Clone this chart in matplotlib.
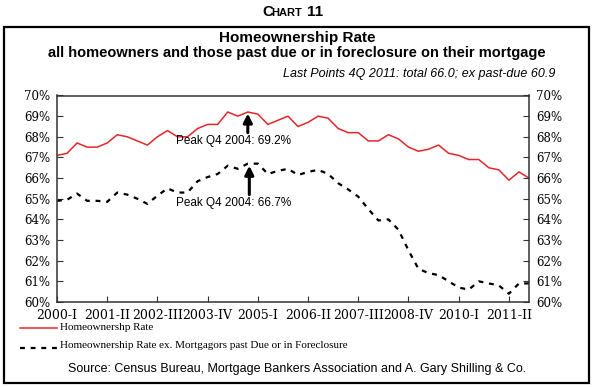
import matplotlib.pyplot as plt
import numpy as np
from matplotlib.patches import Rectangle
from matplotlib.lines import Line2D

# quarterly data, 2000-I .. 2011-IV
quarters = [f"{y}-{q}" for y in range(2000, 2012) for q in ["I", "II", "III", "IV"]]

total_rate = [
    67.1, 67.2, 67.7, 67.5, 67.5, 67.7, 68.1, 68.0, 67.8, 67.6, 68.0, 68.3,
    68.0, 68.0, 68.4, 68.6, 68.6, 69.2, 69.0, 69.2, 69.1, 68.6, 68.8, 69.0,
    68.5, 68.7, 69.0, 68.9, 68.4, 68.2, 68.2, 67.8, 67.8, 68.1, 67.9, 67.5,
    67.3, 67.4, 67.6, 67.2, 67.1, 66.9, 66.9, 66.5, 66.4, 65.9, 66.3, 66.0,
]

ex_past_due = [
    64.9, 64.95, 65.25, 64.9, 64.9, 64.85, 65.3, 65.2, 65.0, 64.75, 65.15, 65.5,
    65.3, 65.3, 65.85, 66.05, 66.2, 66.6, 66.45, 66.7, 66.7, 66.2, 66.35, 66.45,
    66.15, 66.3, 66.4, 66.2, 65.75, 65.45, 65.1, 64.5, 63.95, 64.0, 63.5, 62.5,
    61.6, 61.4, 61.3, 61.0, 60.7, 60.6, 61.0, 60.9, 60.8, 60.4, 60.9, 60.9,
]

tick_every = 5
peak_idx = quarters.index("2004-IV")

RED = "#E3262A"


def main():
    fig = plt.figure(figsize=(5.93, 3.87), dpi=100)
    W, H = 593, 387

    def fx(px):
        return px / W

    def fy(py):
        return 1 - py / H

    # outer frame
    fig.patches.append(Rectangle((fx(4), fy(383)), fx(585), 356 / H,
                                 transform=fig.transFigure, fill=False,
                                 edgecolor="black", linewidth=1.6))

    # "CHART 11" header in small caps style
    fig.text(fx(262), fy(12), "C", fontsize=11, fontweight="bold",
             family="Liberation Sans", ha="left", va="center")
    fig.text(fx(271.5), fy(13), "HART", fontsize=8, fontweight="bold",
             family="Liberation Sans", ha="left", va="center")
    fig.text(fx(307), fy(12), "11", fontsize=11, fontweight="bold",
             family="Liberation Sans", ha="left", va="center")

    fig.text(fx(297), fy(38), "Homeownership Rate", fontsize=11,
             fontweight="bold", family="Liberation Sans", ha="center", va="center")
    fig.text(fx(297), fy(53),
             "all homeowners and those past due or in foreclosure on their mortgage",
             fontsize=10.5, fontweight="bold", family="Liberation Sans",
             ha="center", va="center")
    fig.text(fx(555), fy(74),
             "Last Points 4Q 2011: total 66.0; ex past-due 60.9",
             fontsize=9, fontstyle="italic", family="Liberation Sans",
             ha="right", va="center")

    ax = fig.add_axes([fx(57), fy(302), fx(529 - 57), (302 - 95.5) / H])
    x = np.arange(len(quarters))
    ax.plot(x, total_rate, color=RED, lw=1.1)
    ax.plot(x, ex_past_due, color="black", lw=1.6, dashes=(2.2, 2.6))

    ax.set_xlim(0, len(quarters) - 1)
    ax.set_ylim(60, 70)
    ax.set_xticks(x[::tick_every])
    ax.set_xticklabels(quarters[::tick_every], family="DejaVu Serif", fontsize=9)
    yt = np.arange(60, 71, 1)
    ax.set_yticks(yt)
    ax.set_yticklabels([f"{v}%" for v in yt], family="DejaVu Serif", fontsize=8.5)
    ax.tick_params(axis="both", direction="in", length=4, width=0.8,
                   colors="#333333", labelcolor="black", pad=3)
    ax.tick_params(axis="y", right=True, labelright=True, pad=5)
    ax.tick_params(axis="x", pad=5)
    for s in ax.spines.values():
        s.set_color("#333333")
        s.set_linewidth(1.1)

    # peak annotations
    arrow_kw = dict(arrowstyle="-|>", lw=2.2, color="black", mutation_scale=13,
                    shrinkA=0, shrinkB=0)
    ax.annotate("", xy=(peak_idx, total_rate[peak_idx] - 0.07),
                xytext=(peak_idx, total_rate[peak_idx] - 1.0), arrowprops=arrow_kw)
    ax.text(peak_idx - 1.45, total_rate[peak_idx] - 1.4,
            f"Peak Q4 2004: {total_rate[peak_idx]:.1f}%", fontsize=8.5,
            family="Liberation Sans", ha="center", va="center")
    ax.annotate("", xy=(peak_idx + 0.15, ex_past_due[peak_idx] - 0.1),
                xytext=(peak_idx + 0.15, ex_past_due[peak_idx] - 1.5), arrowprops=arrow_kw)
    ax.text(peak_idx - 1.45, ex_past_due[peak_idx] - 1.9,
            f"Peak Q4 2004: {ex_past_due[peak_idx]:.1f}%", fontsize=8.5,
            family="Liberation Sans", ha="center", va="center")

    # legend drawn by hand
    fig.lines.append(Line2D([fx(20), fx(57)], [fy(328), fy(328)],
                            transform=fig.transFigure, color=RED, lw=1.1))
    fig.text(fx(60), fy(327), "Homeownershp Rate", fontsize=8,
             family="Liberation Serif", ha="left", va="center")
    fig.lines.append(Line2D([fx(20), fx(57)], [fy(348), fy(348)],
                            transform=fig.transFigure, color="black", lw=1.6,
                            dashes=(2.2, 2.6)))
    fig.text(fx(60), fy(346),
             "Homeownership Rate ex. Mortgagors past Due or in Foreclosure",
             fontsize=8, family="Liberation Serif", ha="left", va="center")

    fig.text(fx(297), fy(369),
             "Source: Census Bureau, Mortgage Bankers Association and A. Gary Shilling & Co.",
             fontsize=9, family="Liberation Sans", ha="center", va="center")

    fig.savefig("out.png", dpi=100)
    plt.close(fig)


if __name__ == "__main__":
    main()
